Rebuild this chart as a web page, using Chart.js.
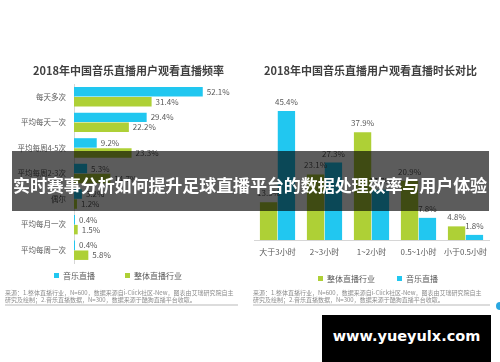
<!DOCTYPE html>
<html><head><meta charset="utf-8">
<script src="https://cdn.jsdelivr.net/npm/chart.js@4.4.1/dist/chart.umd.min.js"></script>
<style>
html,body{margin:0;padding:0;background:#fff;}
body{width:500px;height:362px;overflow:hidden;position:relative;font-family:"Noto Sans CJK SC","Noto Sans",sans-serif;}
canvas{position:absolute;top:0;}
#c1{left:0;}
#c2{left:250px;}
.title{position:absolute;top:63px;font-size:11px;font-weight:bold;color:#404040;white-space:nowrap;transform:translateX(-50%);line-height:14px;}
.note{position:absolute;top:290px;font-size:6px;line-height:6.5px;color:#8c8c8c;white-space:nowrap;}
.rule{position:absolute;top:304px;height:2px;background:#dcdcdc;}
#banner{position:absolute;left:12px;top:151px;width:477px;height:60px;background:rgba(0,0,0,0.64);z-index:5;}
#bannerText{position:absolute;left:250px;top:174px;height:22px;line-height:22px;color:#fff;font-weight:bold;font-size:17px;letter-spacing:0px;white-space:nowrap;z-index:6;transform:translateX(-50%);}
#wm{position:absolute;left:322px;top:315px;width:169px;height:47px;background:#000;color:#fff;font-family:"DejaVu Sans",sans-serif;font-weight:bold;font-size:14.5px;line-height:42px;text-align:center;z-index:6;}
#dot{position:absolute;left:496px;top:302px;width:8px;height:8px;border-radius:50%;background:#2aa7e0;}
</style></head>
<body>
<canvas id="c1" width="250" height="362"></canvas>
<canvas id="c2" width="250" height="362"></canvas>
<div class="title" style="left:128.5px">2018年中国音乐直播用户观看直播频率</div>
<div class="title" style="left:370.5px">2018年中国音乐直播用户观看直播时长对比</div>
<div class="note" style="left:5px">来源：1.整体直播行业，N=600，数据来源自i-Click社区-New，图表由艾瑞研究院自主<br>研究及绘制；2.音乐直播数据，N=300，数据来源于酷狗直播平台收取。</div>
<div class="note" style="left:253px">来源：1.整体直播行业，N=600，数据来源自i-Click社区-New，图表由艾瑞研究院自主<br>研究及绘制；2.音乐直播数据，N=300，数据来源于酷狗直播平台收取。</div>
<div class="rule" style="left:5px;width:233px"></div>
<div class="rule" style="left:253px;width:237px"></div>
<div id="banner"></div>
<div id="bannerText">实时赛事分析如何提升足球直播平台的数据处理效率与用户体验</div>
<div id="wm">www.yueyulx.com</div>
<div id="dot"></div>
<script>
// ---- data ----
const freqCategories = ['每天多次','平均每天一次','平均每周4-5次','平均每周2-3次','偶尔','平均每月一次','平均每周一次'];
const freqMusic = [52.1, 29.4, 9.2, 5.3, 3.2, 0.4, 0.4];
const freqIndustry = [31.4, 22.2, 23.3, 14.7, 1.2, 1.5, 5.8];
const durCategories = ['大于3小时','2~3小时','1~2小时','0.5~1小时','小于0.5小时'];
const durIndustry = [13.3, 23.1, 37.9, 20.9, 4.8];
const durMusic = [45.4, 27.3, 17.7, 7.8, 1.8];
const seriesMusic = '音乐直播';
const seriesIndustry = '整体直播行业';

const FONT = '"Noto Sans CJK SC","Noto Sans",sans-serif';
const CYAN = '#21c7f0';
const GREEN = '#aed036';
const TXT = '#595959';

// fit banner text to the banner width
(function () {
  const el = document.getElementById('bannerText');
  const n = el.textContent.length;
  const w = el.getBoundingClientRect().width;
  const target = 474;
  el.style.letterSpacing = ((target - w) / n) + 'px';
})();

const valueLabels = {
  id: 'valueLabels',
  afterDatasetsDraw(chart, args, opts) {
    const ctx = chart.ctx;
    ctx.save();
    ctx.font = opts.size + 'px ' + FONT;
    ctx.fillStyle = opts.color;
    ctx.textBaseline = 'middle';
    chart.data.datasets.forEach((ds, di) => {
      const meta = chart.getDatasetMeta(di);
      meta.data.forEach((el, i) => {
        const txt = ds.data[i].toFixed(1) + '%';
        if (opts.horizontal) {
          ctx.textAlign = 'left';
          ctx.fillText(txt, el.x + opts.offset, el.y);
        } else {
          ctx.textAlign = 'center';
          ctx.fillText(txt, el.x, el.y - opts.offset);
        }
      });
    });
    ctx.restore();
  }
};

const legendPlace = {
  id: 'legendPlace',
  afterLayout(chart, args, opts) {
    const lg = chart.legend;
    if (!lg || opts.x === undefined) return;
    const P = lg.options.labels.padding;
    const fs = lg.options.labels.font.size;
    const dy = opts.y - (lg.top + P + fs / 2);
    const dx = opts.x - (lg.left + lg.right) / 2;
    lg.top += dy; lg.bottom += dy;
    lg.left += dx; lg.right += dx;
  }
};

new Chart(document.getElementById('c1'), {
  type: 'bar',
  data: {
    labels: freqCategories,
    datasets: [
      { label: seriesMusic, data: freqMusic, backgroundColor: CYAN },
      { label: seriesIndustry, data: freqIndustry, backgroundColor: GREEN }
    ]
  },
  options: {
    indexAxis: 'y',
    responsive: false,
    animation: false,
    events: [],
    datasets: { bar: { categoryPercentage: 0.78, barPercentage: 0.95 } },
    layout: { padding: { top: 84, left: 0, right: 3, bottom: 51 } },
    scales: {
      x: { display: false, min: 0, max: 70 },
      y: {
        grid: { display: false, drawTicks: false },
        border: { display: true, color: '#d6d6d6', width: 1 },
        ticks: { font: { family: FONT, size: 7.5 }, color: TXT, padding: 8 },
        afterFit(scale) { scale.width = 74; }
      }
    },
    plugins: {
      legend: {
        position: 'bottom',
        labels: { font: { family: FONT, size: 8 }, color: TXT, boxWidth: 5, boxHeight: 5, padding: 30 }
      },
      tooltip: { enabled: false },
      valueLabels: { horizontal: true, offset: 4, size: 8, color: TXT },
      legendPlace: { x: 118, y: 275.5 }
    }
  },
  plugins: [valueLabels, legendPlace]
});

new Chart(document.getElementById('c2'), {
  type: 'bar',
  data: {
    labels: durCategories,
    datasets: [
      { label: seriesIndustry, data: durIndustry, backgroundColor: GREEN },
      { label: seriesMusic, data: durMusic, backgroundColor: CYAN }
    ]
  },
  options: {
    responsive: false,
    animation: false,
    events: [],
    datasets: { bar: { categoryPercentage: 0.76, barPercentage: 0.97 } },
    layout: { padding: { top: 98, left: 4, right: 11, bottom: 58.4 } },
    scales: {
      y: { display: false, min: 0, max: 50 },
      x: {
        grid: { display: false, drawTicks: false },
        border: { display: true, color: '#d6d6d6', width: 1 },
        ticks: { font: { family: FONT, size: 8 }, color: TXT, padding: 7, maxRotation: 0, autoSkip: false }
      }
    },
    plugins: {
      legend: {
        position: 'bottom',
        labels: { font: { family: FONT, size: 8 }, color: TXT, boxWidth: 5, boxHeight: 5, padding: 22 }
      },
      tooltip: { enabled: false },
      valueLabels: { horizontal: false, offset: 9, size: 8, color: TXT },
      legendPlace: { x: 128, y: 278.5 }
    }
  },
  plugins: [valueLabels, legendPlace]
});
</script>
</body></html>
